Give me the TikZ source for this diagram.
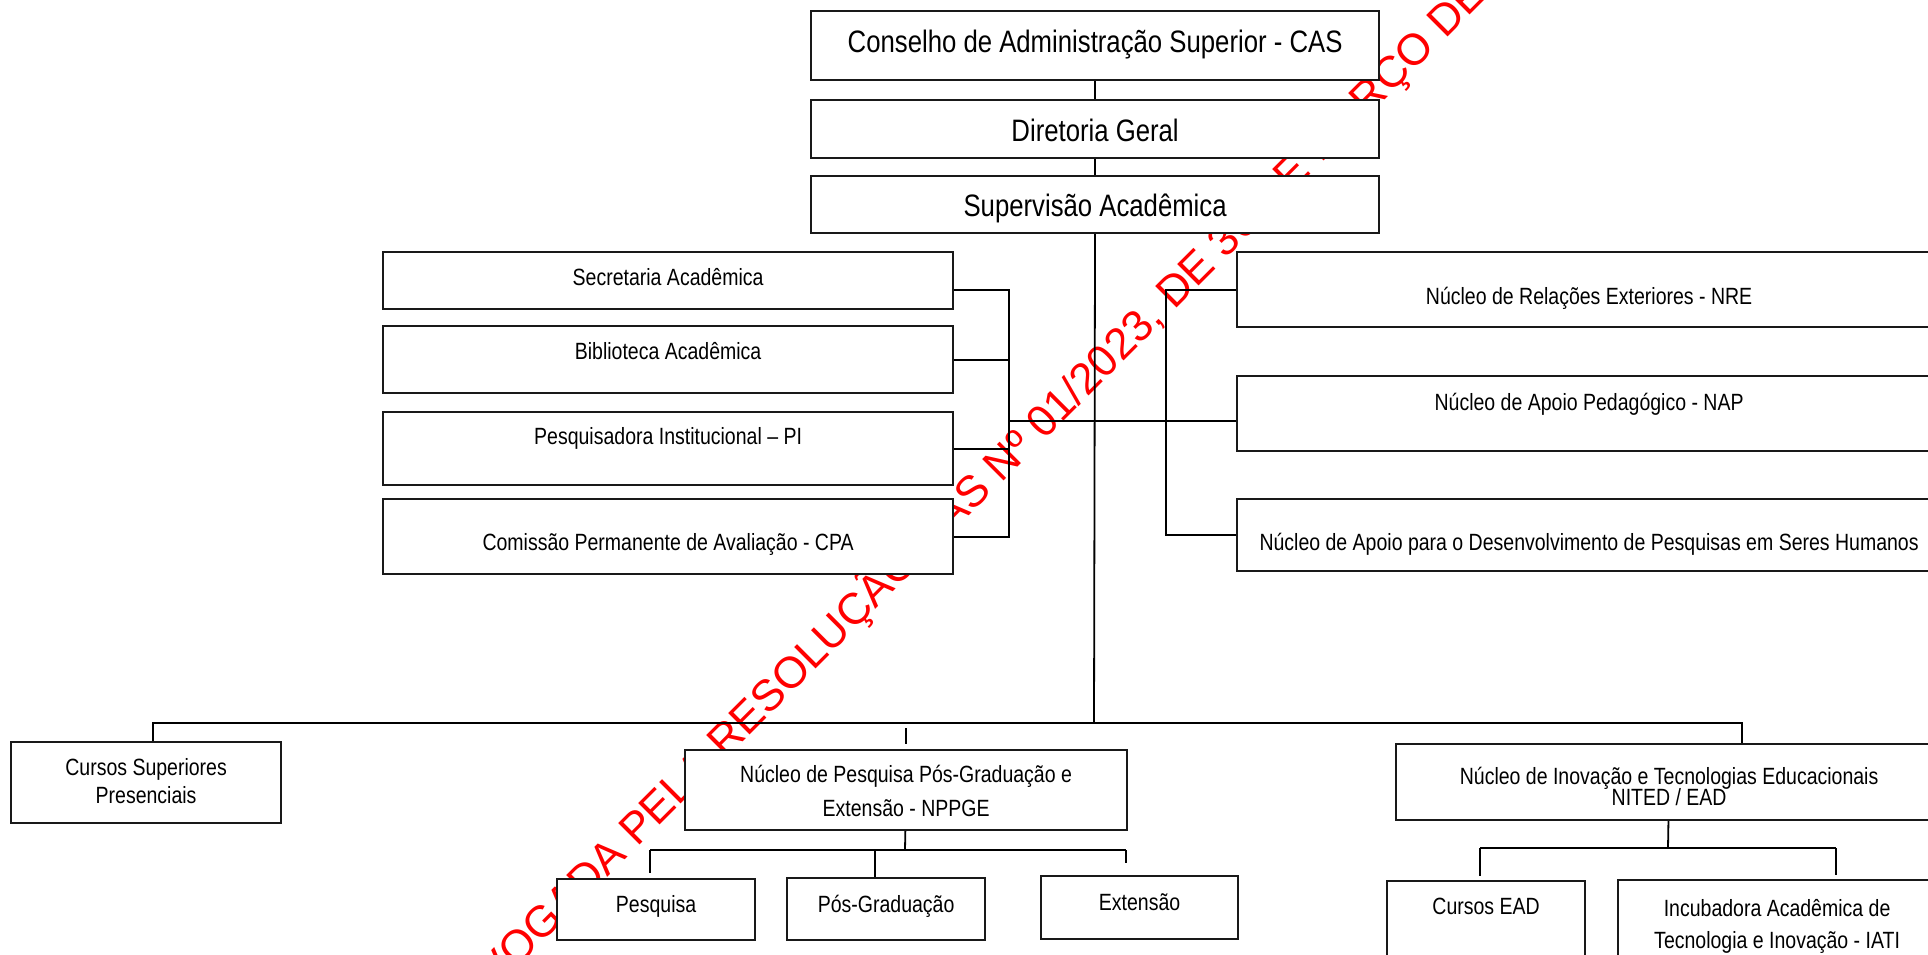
\documentclass[tikz,border=0pt]{standalone}
\usepackage{fontspec}
\setmainfont{Liberation Sans}
\newfontfamily\narrowsans[FakeStretch=0.83]{Liberation Sans}
\usepackage{tikz}
\newcommand{\twoline}[3]{\vtop{\baselineskip=#3\lineskiplimit=-50pt\halign{\hfil##\hfil\cr#1\cr#2\cr}}}

\begin{document}
\begin{tikzpicture}[x=1pt,y=-1pt,
    box/.style={draw=black!90,line width=2.2pt,fill=white,inner sep=0pt,anchor=north west,
      font=\narrowsans\fontsize{23.5}{28}\selectfont},
    bigbox/.style={box,font=\narrowsans\fontsize{31}{36}\selectfont},
    link/.style={line width=1.8pt},
    stamp/.style={text=red,inner sep=0pt,anchor=base west,rotate=45,font=\fontsize{44}{48}\selectfont}]
  \useasboundingbox (0,0) rectangle (1928,955);
  \clip (0,0) rectangle (1928,955);

  \node [stamp] (stamp) at (452,1033) {REVOGADA PELA RESOLUÇÃO CAS Nº 01/2023, DE 30 DE MARÇO DE 2023};

  \node [bigbox,minimum width=568pt,text height=41pt,text depth=28pt] (cas) at (810,10) {Conselho de Administração Superior - CAS};
  \node [bigbox,minimum width=568pt,text height=41pt,text depth=17pt] (dir) at (810,99) {Diretoria Geral};
  \node [bigbox,minimum width=568pt,text height=40pt,text depth=17pt] (sup) at (810,175) {Supervisão Acadêmica};

  \node [box,minimum width=570pt,text height=33pt,text depth=24pt] (sec) at (382,251) {Secretaria Acadêmica};
  \node [box,minimum width=570pt,text height=33pt,text depth=34pt] (bib) at (382,325) {Biblioteca Acadêmica};
  \node [box,minimum width=570pt,text height=32pt,text depth=41pt] (pi) at (382,411) {Pesquisadora Institucional – PI};
  \node [box,minimum width=570pt,text height=51pt,text depth=24pt] (cpa) at (382,498) {Comissão Permanente de Avaliação - CPA};

  \node [box,minimum width=704pt,text height=52pt,text depth=23pt] (nre) at (1236,251) {Núcleo de Relações Exteriores - NRE};
  \node [box,minimum width=704pt,text height=34pt,text depth=41pt] (nap) at (1236,375) {Núcleo de Apoio Pedagógico - NAP};
  \node [box,minimum width=704pt,text height=51pt,text depth=21pt] (hum) at (1236,498) {Núcleo de Apoio para o Desenvolvimento de Pesquisas em Seres Humanos};

  \node [box,minimum width=270pt,text height=33pt,text depth=48pt] (cursos) at (10,741) {\twoline{Cursos Superiores}{Presenciais}{28pt}};
  \node [box,minimum width=442pt,text height=32pt,text depth=48pt] (nppge) at (684,749) {\twoline{Núcleo de Pesquisa Pós-Graduação e}{Extensão - NPPGE}{34pt}};
  \node [box,minimum width=546pt,text height=40pt,text depth=36pt] (nited) at (1395,743) {\twoline{Núcleo de Inovação e Tecnologias Educacionais}{NITED / EAD}{21pt}};

  \node [box,minimum width=198pt,text height=33pt,text depth=28pt] (pesq) at (556,878) {Pesquisa};
  \node [box,minimum width=198pt,text height=34pt,text depth=28pt] (posg) at (786,877) {Pós-Graduação};
  \node [box,minimum width=197pt,text height=34pt,text depth=29pt] (ext) at (1040,875) {Extensão};
  \node [box,minimum width=198pt,text height=33pt,text depth=80pt] (ead) at (1386,880) {Cursos EAD};
  \node [box,minimum width=318pt,text height=36pt,text depth=80pt] (iati) at (1617,879) {\twoline{Incubadora Acadêmica de}{Tecnologia e Inovação - IATI}{32pt}};

  \coordinate (lbr) at (1009,421);
  \coordinate (rbr) at (1166,421);
  \coordinate (bus) at (1094,723);
  \coordinate (busL) at (153,723);
  \coordinate (busR) at (1742,723);
  \coordinate (nbus) at (905,850);
  \coordinate (nbusL) at (650,850);
  \coordinate (nbusM) at (875,850);
  \coordinate (nbusR) at (1126,850);
  \coordinate (ebus) at (1668,848);
  \coordinate (ebusL) at (1480,848);
  \coordinate (ebusR) at (1836,848);

  \path [link]
    (cas) edge (dir)
    (dir) edge (sup)
    (sup) edge (bus)
    (nppge) edge (nbus)
    (nited) edge (ebus);

  \draw [link] (sec.east |- nre.east) -| (lbr |- cpa.east) -- (cpa.east);
  \draw [link] (bib.east) -- (bib.east -| lbr);
  \draw [link] (pi.east) -- (pi.east -| lbr);
  \draw [link] (lbr) -- (rbr);
  \draw [link] (nre.west) -| (rbr |- hum.west) -- (hum.west);
  \draw [link] (rbr) -- (rbr -| nap.west);

  \draw [link] (busL |- cursos.north) -- (busL) -- (busR) -- (busR |- nited.north);
  \draw [link,shorten <=5pt,shorten >=5pt] (bus -| nppge.north) -- (nppge.north);

  \draw [link] (nbusL) -- (nbusR);
  \draw [link,shorten >=5pt] (nbusL) -- (nbusL |- pesq.north);
  \draw [link] (nbusM) -- (nbusM |- posg.north);
  \draw [link,shorten >=12pt] (nbusR) -- (nbusR |- ext.north);

  \draw [link] (ebusL) -- (ebusR);
  \draw [link,shorten >=4pt] (ebusL) -- (ebusL |- ead.north);
  \draw [link,shorten >=4pt] (ebusR) -- (ebusR |- iati.north);
\end{tikzpicture}
\end{document}
